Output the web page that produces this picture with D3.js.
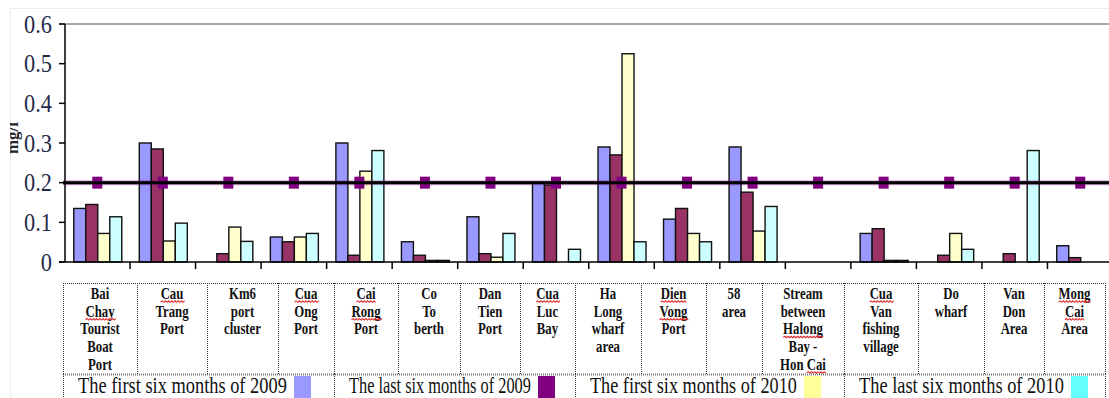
<!DOCTYPE html>
<html>
<head>
<meta charset="utf-8">
<script src="https://cdn.jsdelivr.net/npm/d3@7"></script>
<style>
  html, body { margin: 0; padding: 0; background: #fff; }
  svg { display: block; }
</style>
</head>
<body>
<svg id="chart" width="1109" height="398"></svg>
<script>
// ---------------- DATA ----------------
const categories = [
  "Bai Chay Tourist Boat Port", "Cau Trang Port", "Km6 port cluster", "Cua Ong Port",
  "Cai Rong Port", "Co To berth", "Dan Tien Port", "Cua Luc Bay",
  "Ha Long wharf area", "Dien Vong Port", "58 area", "Stream between Halong Bay - Hon Cai",
  "Cua Van fishing village", "Do wharf", "Van Don Area", "Mong Cai Area"
];
const categoryLines = [
  ["Bai", "Chay", "Tourist", "Boat", "Port"],
  ["Cau", "Trang", "Port"],
  ["Km6", "port", "cluster"],
  ["Cua", "Ong", "Port"],
  ["Cai", "Rong", "Port"],
  ["Co", "To", "berth"],
  ["Dan", "Tien", "Port"],
  ["Cua", "Luc", "Bay"],
  ["Ha", "Long", "wharf", "area"],
  ["Dien", "Vong", "Port"],
  ["58", "area"],
  ["Stream", "between", "Halong", "Bay -", "Hon Cai"],
  ["Cua", "Van", "fishing", "village"],
  ["Do", "wharf"],
  ["Van", "Don", "Area"],
  ["Mong", "Cai", "Area"]
];
const spellFlagged = ["Chay", "Cau", "Cua", "Cai", "Rong", "Dien", "Vong", "Halong", "Mong"];

const seriesNames = [
  "The first six months of 2009",
  "The last six months of 2009",
  "The first six months of 2010",
  "The last six months of 2010"
];
const first2009 = [0.135, 0.300, 0.000, 0.063, 0.300, 0.051, 0.114, 0.200, 0.290, 0.108, 0.290, 0.000, 0.072, 0.000, 0.000, 0.041];
const last2009  = [0.145, 0.285, 0.021, 0.051, 0.017, 0.017, 0.021, 0.194, 0.270, 0.135, 0.176, 0.000, 0.084, 0.017, 0.021, 0.011];
const first2010 = [0.072, 0.053, 0.088, 0.063, 0.229, 0.004, 0.012, 0.000, 0.525, 0.072, 0.078, 0.000, 0.004, 0.072, 0.000, 0.000];
const last2010  = [0.114, 0.098, 0.052, 0.072, 0.281, 0.004, 0.072, 0.032, 0.051, 0.051, 0.140, 0.000, 0.004, 0.032, 0.281, 0.000];
const standard  = [0.2, 0.2, 0.2, 0.2, 0.2, 0.2, 0.2, 0.2, 0.2, 0.2, 0.2, 0.2, 0.2, 0.2, 0.2, 0.2];
const limitValue = 0.2;
const yTicks = [0, 0.1, 0.2, 0.3, 0.4, 0.5, 0.6];
const yTickLabels = ["0", "0.1", "0.2", "0.3", "0.4", "0.5", "0.6"];
const yLabel = "mg/l";

// ---------------- STYLE / LAYOUT ----------------
const barColors = ["#9999ff", "#993366", "#ffffcc", "#ccffff"];
const swatchColors = ["#9999ff", "#800080", "#ffff99", "#66ffff"];
const legendTextWidths = [209, 182, 207, 205];
const FONT = "\"Liberation Serif\"";

const svg = d3.select("#chart");
const W = 1109;
const plotLeft = 64.5, plotRight = 1113, plotTop = 24, plotBottom = 262;

const x = d3.scaleBand().domain(categories).range([plotLeft, plotRight]).padding(0);
const groupW = 48;
const xs = d3.scaleBand().domain(d3.range(4)).range([0, groupW]).padding(0);
const y = d3.scaleLinear().domain([0, 0.6]).range([plotBottom, plotTop]);

// faint outer frame
svg.append("rect").attr("x", 10.5).attr("y", 8.5).attr("width", 1200).attr("height", 1000)
  .attr("fill", "none").attr("stroke", "#ececec").attr("stroke-width", 1);

// clip for the cut-off y label
svg.append("defs").append("clipPath").attr("id", "ylabClip")
  .append("rect").attr("x", 10).attr("y", 0).attr("width", 40).attr("height", 398);

svg.append("g").attr("clip-path", "url(#ylabClip)")
  .append("text")
  .attr("transform", `translate(17.5, 138) rotate(-90)`)
  .attr("text-anchor", "middle")
  .style("font-family", FONT)
  .attr("font-weight", "bold").attr("font-size", 17)
  .attr("fill", "#222")
  .text(yLabel);

// top gridline (0.6)
svg.append("line").attr("x1", 59).attr("x2", W).attr("y1", y(0.6)).attr("y2", y(0.6))
  .attr("stroke", "#a8a8a8").attr("stroke-width", 2);

// bars
const series = [first2009, last2009, first2010, last2010];
const groupOffset = (x.bandwidth() - groupW) / 2 + 0.5;
series.forEach((vals, si) => {
  svg.append("g").selectAll("rect")
    .data(vals.map((v, i) => ({ v, c: categories[i] })).filter(d => d.v > 0))
    .join("rect")
    .attr("x", d => x(d.c) + groupOffset + xs(si))
    .attr("y", d => y(d.v))
    .attr("width", xs.bandwidth())
    .attr("height", d => y(0) - y(d.v))
    .attr("fill", barColors[si])
    .attr("stroke", "#111")
    .attr("stroke-width", 1.4);
});

// standard line (purple, with square markers) and black limit line
const stdLine = d3.line().x((d, i) => x(categories[i]) + x.bandwidth() / 2).y(d => y(d));
svg.append("line").attr("x1", 63).attr("x2", W).attr("y1", y(limitValue)).attr("y2", y(limitValue))
  .attr("stroke", "#800080").attr("stroke-opacity", 0.35).attr("stroke-width", 5);
svg.append("path").datum(standard).attr("d", stdLine).attr("fill", "none")
  .attr("stroke", "#800080").attr("stroke-width", 2);
svg.append("g").selectAll("rect").data(standard).join("rect")
  .attr("x", (d, i) => x(categories[i]) + x.bandwidth() / 2 - 5)
  .attr("y", d => y(d) - 6)
  .attr("width", 10).attr("height", 12)
  .attr("fill", "#800080");
svg.append("line").attr("x1", 63).attr("x2", W).attr("y1", y(limitValue)).attr("y2", y(limitValue))
  .attr("stroke", "#000").attr("stroke-width", 3);

// axes
svg.append("line").attr("x1", 65).attr("x2", 65).attr("y1", plotTop).attr("y2", plotBottom)
  .attr("stroke", "#000").attr("stroke-width", 1.5);
svg.append("line").attr("x1", 59).attr("x2", W).attr("y1", plotBottom).attr("y2", plotBottom)
  .attr("stroke", "#000").attr("stroke-width", 1.5);
svg.append("g").selectAll("line").data(yTicks).join("line")
  .attr("x1", 59).attr("x2", 65).attr("y1", d => y(d)).attr("y2", d => y(d))
  .attr("stroke", "#000").attr("stroke-width", 1.5);
svg.append("g").selectAll("line").data(categories.slice(1)).join("line")
  .attr("x1", d => x(d)).attr("x2", d => x(d))
  .attr("y1", plotBottom).attr("y2", plotBottom + 7)
  .attr("stroke", "#000").attr("stroke-width", 1.5);

// y tick labels
svg.append("g").selectAll("g").data(yTicks).join("g")
  .attr("transform", d => `translate(52, ${y(d) + 8.5}) scale(0.86,1)`)
  .append("text")
  .attr("text-anchor", "end")
  .style("font-family", FONT)
  .attr("font-size", 26)
  .attr("fill", "#1f2a4a")
  .text((d, i) => yTickLabels[i]);

// ---------------- bottom table ----------------
const colEdges = [63, 137, 207, 278, 334, 398, 460, 520, 575, 641, 706, 762, 844, 918, 984, 1044, 1105];
const legendEdges = [63, 334, 575, 844, 1105];
const tTop = 283, tMid = 374, tBot = 398;
const dotted = sel => sel.attr("stroke", "#333").attr("stroke-width", 1).attr("stroke-dasharray", "1,1");

const tbl = svg.append("g");
tbl.append("line").attr("x1", colEdges[0]).attr("x2", colEdges[16]).attr("y1", tTop + 0.5).attr("y2", tTop + 0.5).call(dotted);
tbl.append("line").attr("x1", colEdges[0]).attr("x2", colEdges[16]).attr("y1", tMid + 0.5).attr("y2", tMid + 0.5)
  .call(dotted).attr("stroke", "#777").attr("stroke-width", 2);
tbl.selectAll("line.c").data(colEdges).join("line").attr("class", "c")
  .attr("x1", d => d + 0.5).attr("x2", d => d + 0.5).attr("y1", tTop).attr("y2", tMid).call(dotted);
tbl.selectAll("line.l").data(legendEdges).join("line").attr("class", "l")
  .attr("x1", d => d + 0.5).attr("x2", d => d + 0.5).attr("y1", tMid).attr("y2", tBot).call(dotted);

// category labels
const labSX = 0.8, lineH = 17.7, firstBase = 299;
categoryLines.forEach((lines, ci) => {
  const cx = (colEdges[ci] + colEdges[ci + 1]) / 2;
  lines.forEach((ln, li) => {
    const g = tbl.append("g").attr("transform", `translate(${cx}, ${firstBase + li * lineH}) scale(${labSX},1)`);
    const t = g.append("text").attr("text-anchor", "middle")
      .style("font-family", FONT)
      .attr("font-weight", "bold").attr("font-size", 16)
      .attr("fill", "#111").text(ln);
    const node = t.node();
    const L = node.getComputedTextLength();
    let idx = 0;
    ln.split(" ").forEach(word => {
      const start = ln.indexOf(word, idx);
      idx = start + word.length;
      if (spellFlagged.includes(word)) {
        const x0 = -L / 2 + (start > 0 ? node.getSubStringLength(0, start) : 0);
        const wlen = node.getSubStringLength(start, word.length);
        let d = `M${x0},3`;
        for (let k = 0, up = true; k < wlen; k += 2, up = !up) d += ` L${x0 + k + 2},${up ? 1.8 : 3.4}`;
        g.append("path").attr("d", d).attr("fill", "none").attr("stroke", "#e02020").attr("stroke-width", 1.1);
      }
    });
  });
});

// legend row
seriesNames.forEach((name, si) => {
  const x0 = legendEdges[si] + 15;
  const g = tbl.append("g");
  const t = g.append("text").style("font-family", FONT).attr("font-size", 23).attr("fill", "#111").text(name);
  const natural = t.node().getComputedTextLength();
  const sx = legendTextWidths[si] / natural;
  g.attr("transform", `translate(${x0}, 392.5) scale(${sx},1)`);
  tbl.append("rect").attr("x", x0 + legendTextWidths[si] + 7).attr("y", 376).attr("width", 17).attr("height", 24)
    .attr("fill", swatchColors[si]);
});
</script>
</body>
</html>
